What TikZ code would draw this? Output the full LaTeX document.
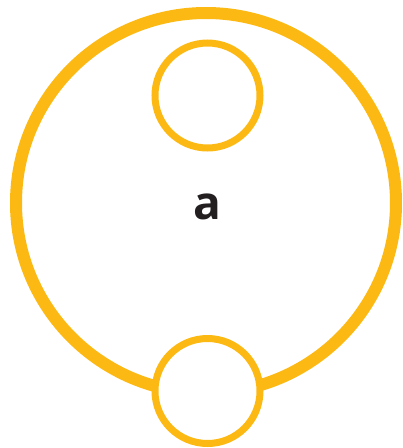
\documentclass[tikz,border=0pt]{standalone}
\usepackage{fontspec}
\setmainfont{Open Sans}
\usepackage{tikz}
\usetikzlibrary{positioning}
\definecolor{ringyellow}{HTML}{FDB913}
\definecolor{labeltext}{HTML}{231F20}

\begin{document}
\begin{tikzpicture}[
  x=1pt,y=-1pt,
  bigring/.style={draw=ringyellow,circle,line width=12pt,minimum size=380pt,inner sep=0pt},
  smallring/.style={draw=ringyellow,fill=white,circle,line width=7pt,minimum size=105pt,inner sep=0pt},
  lbl/.style={font=\fontsize{46}{56}\selectfont\bfseries,text=labeltext}
]
\useasboundingbox (0,0) rectangle (403,448);
\node[bigring] (cell) at (206,203) {};
\node[smallring] (top) at (207.5,95.5) {};
\node[smallring] (bottom) at (207.5,391) {};
\node[lbl] (name) at (207,207) {a};
\end{tikzpicture}
\end{document}
